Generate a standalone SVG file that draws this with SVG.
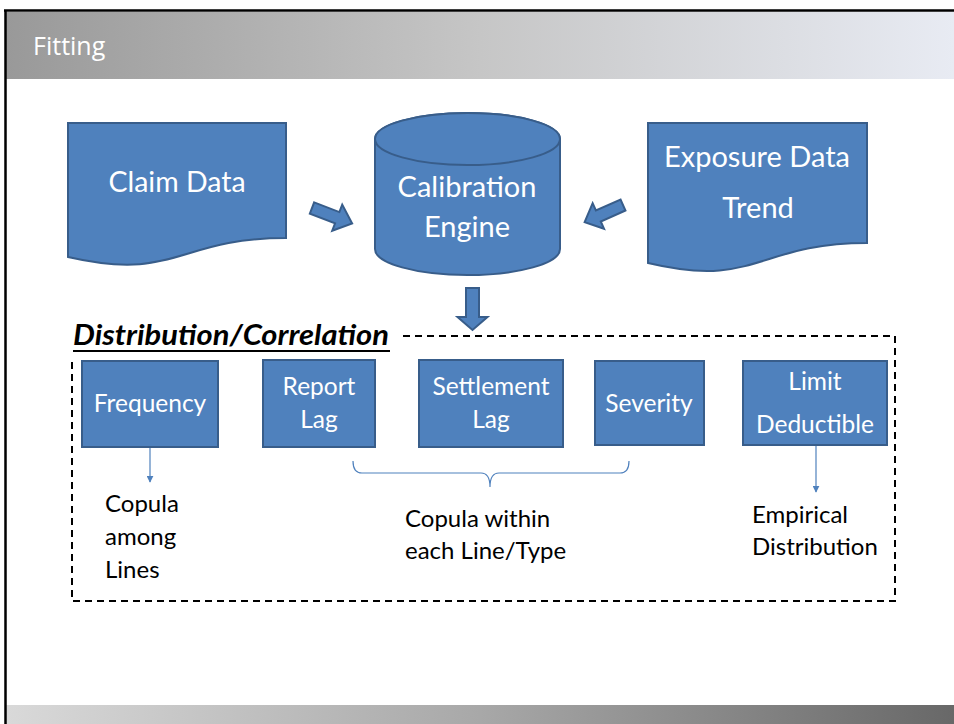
<svg xmlns="http://www.w3.org/2000/svg" width="954" height="724" viewBox="0 0 954 724">
<defs>
<linearGradient id="hdr" x1="0" y1="0" x2="1" y2="0">
<stop offset="0" stop-color="#999999"/>
<stop offset="0.5" stop-color="#c6c6c6"/>
<stop offset="1" stop-color="#e8ebf3"/>
</linearGradient>
<linearGradient id="ftr" x1="0" y1="0" x2="1" y2="0">
<stop offset="0" stop-color="#d9d9d9"/>
<stop offset="0.5" stop-color="#a8a8a8"/>
<stop offset="1" stop-color="#686868"/>
</linearGradient>
<marker id="ah" viewBox="0 0 10 10" refX="9" refY="5" markerWidth="7" markerHeight="7" markerUnits="userSpaceOnUse" orient="auto">
<path d="M0,0 L10,5 L0,10 Z" fill="#4f81bd"/>
</marker>
</defs>
<style>
.sh{fill:#4f81bd;stroke:#385d8a;stroke-width:2}
.wt{fill:#ffffff;font-family:Lato,"Liberation Sans",sans-serif;text-anchor:middle}
.bl{font-size:24.5px}
.bk{fill:#000000;font-family:Lato,"Liberation Sans",sans-serif;font-size:24px}
.thin{fill:none;stroke:#4f81bd;stroke-width:1.2}
</style>
<rect width="954" height="724" fill="#ffffff"/>
<rect x="6" y="12" width="948" height="67" fill="url(#hdr)"/>
<rect x="6" y="705" width="948" height="19" fill="url(#ftr)"/>
<path d="M4,10.5 H954 M5.5,10 V724" stroke="#000" stroke-width="2.5" fill="none"/>
<text x="33" y="55" font-family="'Open Sans','Noto Sans',sans-serif" font-size="25" fill="#ffffff">Fitting</text>

<g id="claim-data">
<path class="sh" d="M68,123 H286 V238 C177,238 177,282 68,257 Z"/>
<text class="wt" x="177" y="192" font-size="28.5">Claim Data</text>
</g>
<g id="calibration-engine">
<path class="sh" d="M375,139 V249 A92.5,26 0 0 0 560,249 V139 A92.5,26 0 0 0 375,139 Z"/>
<ellipse class="sh" cx="467.5" cy="139" rx="92.5" ry="26"/>
<text class="wt" x="467" y="197" font-size="29">Calibration</text>
<text class="wt" x="467" y="237" font-size="29">Engine</text>
</g>
<g id="exposure-data">
<path class="sh" d="M648,123 H867 V243 C757,243 757,289 648,263 Z"/>
<text class="wt" x="757" y="167" font-size="29">Exposure Data</text>
<text class="wt" x="758" y="218" font-size="29">Trend</text>
</g>

<g id="connectors">
<path class="sh" transform="translate(312,208) rotate(21)" d="M0,-6 H27 V-14 L43,0 L27,14 V6 H0 Z"/>
<path class="sh" transform="translate(623,205) rotate(156)" d="M0,-6 H27 V-14 L42,0 L27,14 V6 H0 Z"/>
<path class="sh" transform="translate(472.5,288) rotate(90)" d="M0,-6.5 H29 V-15 L42,0 L29,15 V6.5 H0 Z"/>
<line class="thin" x1="150" y1="447" x2="150" y2="482" marker-end="url(#ah)"/>
<line class="thin" x1="816" y1="445" x2="816" y2="492" marker-end="url(#ah)"/>
<path class="thin" d="M353,461 Q353,473 362,473 H481 Q490,473 490,487 Q490,473 499,473 H620 Q629,473 629,461"/>
</g>

<g id="distribution-box">
<path d="M403,336 H895 V601 H72 V362" fill="none" stroke="#000" stroke-width="2" stroke-dasharray="7,5"/>
<text x="73" y="345" font-family="Lato,'Liberation Sans',sans-serif" font-size="28" font-weight="bold" font-style="italic" fill="#000" textLength="316" lengthAdjust="spacingAndGlyphs">Distribution/Correlation</text>
<line x1="73" y1="351" x2="390" y2="351" stroke="#000" stroke-width="2"/>
</g>

<g id="frequency">
<rect class="sh" x="82" y="361" width="136" height="86"/>
<text class="wt bl" x="150" y="412">Frequency</text>
</g>
<g id="report-lag">
<rect class="sh" x="263" y="360" width="112" height="87"/>
<text class="wt bl" x="319" y="395">Report</text>
<text class="wt bl" x="319" y="428">Lag</text>
</g>
<g id="settlement-lag">
<rect class="sh" x="419" y="360" width="144" height="87"/>
<text class="wt bl" x="491" y="395">Settlement</text>
<text class="wt bl" x="491" y="428">Lag</text>
</g>
<g id="severity">
<rect class="sh" x="595" y="361" width="109" height="84"/>
<text class="wt bl" x="649" y="412">Severity</text>
</g>
<g id="limit-deductible">
<rect class="sh" x="743" y="361" width="144" height="84"/>
<text class="wt bl" x="815" y="390">Limit</text>
<text class="wt bl" x="815" y="433">Deductible</text>
</g>

<g id="copula-among-lines">
<text class="bk" x="105" y="512">Copula</text>
<text class="bk" x="105" y="545">among</text>
<text class="bk" x="105" y="578">Lines</text>
</g>
<g id="copula-within">
<text class="bk" x="405" y="527">Copula within</text>
<text class="bk" x="405" y="559">each Line/Type</text>
</g>
<g id="empirical-distribution">
<text class="bk" x="752" y="523">Empirical</text>
<text class="bk" x="752" y="555">Distribution</text>
</g>
</svg>
